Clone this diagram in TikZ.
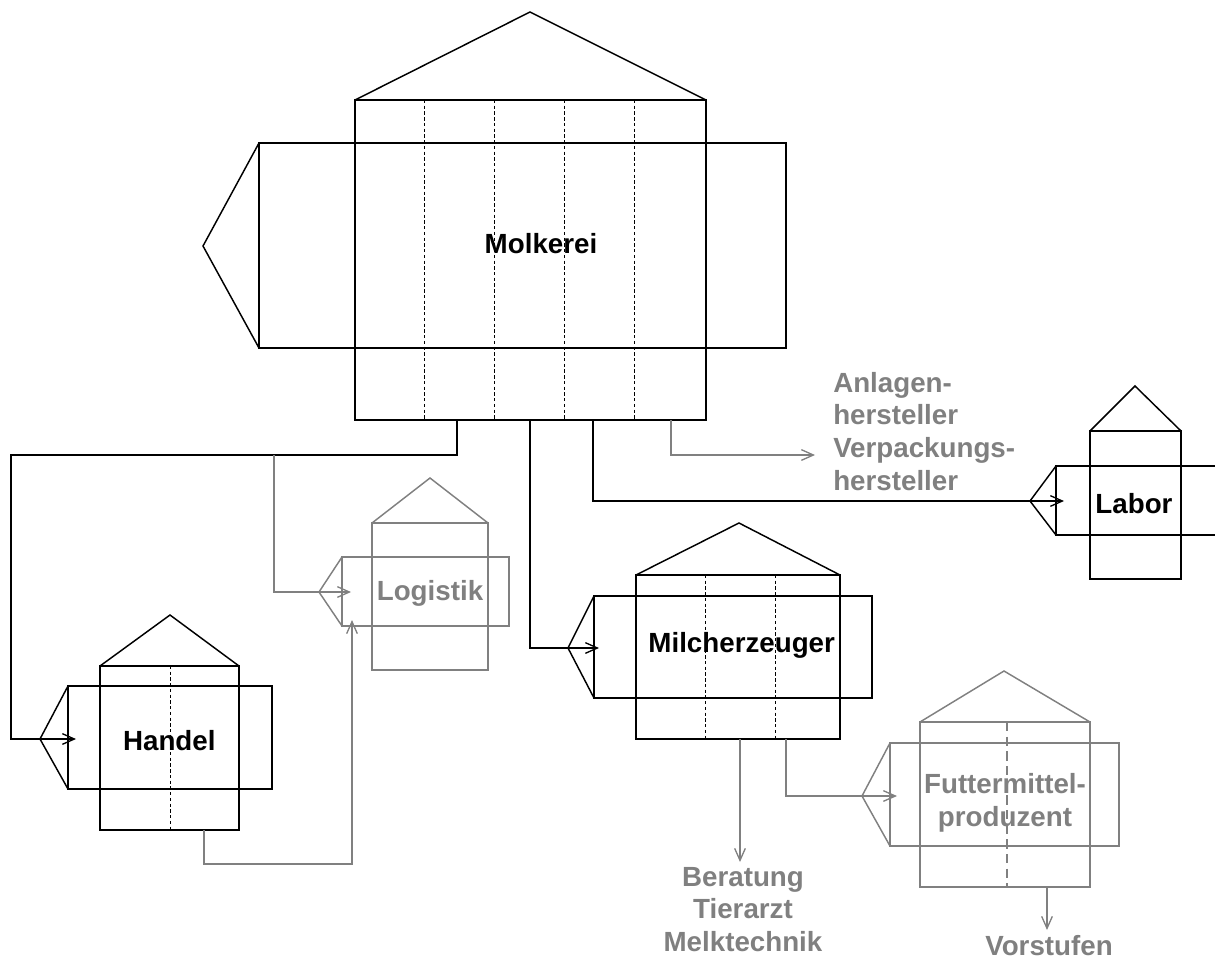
\documentclass[tikz,border=0pt]{standalone}
\usepackage{fontspec}
\setmainfont{Liberation Sans}
\usetikzlibrary{arrows.meta}
\definecolor{grayc}{RGB}{128,128,128}
\begin{document}
\begin{tikzpicture}[x=0.75pt,y=-0.75pt,
  blk/.style={draw=black,line width=1.1pt},
  gry/.style={draw=grayc,line width=1.1pt},
  fold/.style={draw=black,line width=0.6pt,dash pattern=on 2.5pt off 1.8pt},
  foldg/.style={draw=grayc,line width=1.8pt,dash pattern=on 7pt off 4pt},
  conn/.style={line width=1pt,-{Straight Barb[length=9pt,width=8pt,line width=1pt]}},
  lbl/.style={font=\fontsize{20.8}{24.4}\selectfont\bfseries,inner sep=0pt},
]
\useasboundingbox (0,0) rectangle (1215,961);
\begin{scope}
\clip (0,0) rectangle (1215,961);
% ---------- Molkerei ----------
\draw[blk] (355,100) -- (530,12) -- (706,100);
\draw[blk] (355,100) rectangle (706,420);
\draw[blk] (259,143) rectangle (786,348);
\draw[blk] (259,143) -- (203,246) -- (259,348);
\foreach \x in {424.5,494.8,564,634} \draw[fold] (\x,100) -- (\x,420);
\node[lbl,anchor=base] (molkerei) at (541,253) {Molkerei};
\coordinate (mo1) at (457,420);
\coordinate (mo2) at (530,420);
\coordinate (mo3) at (593,420);
\coordinate (mo4) at (671,420);
% ---------- Handel ----------
\draw[blk] (100,666) -- (170,615) -- (239,666);
\draw[blk] (100,666) rectangle (239,830);
\draw[blk] (68,686) rectangle (272,789);
\draw[blk] (68,686) -- (40,739) -- (68,789);
\draw[fold] (170.7,666) -- (170.7,830);
\node[lbl,anchor=base] (handel) at (169.3,750) {Handel};
\coordinate (handelIn) at (76,739);
\coordinate (ho1) at (204,830);
% ---------- Logistik ----------
\draw[gry] (372,523) -- (430,478) -- (488,523);
\draw[gry] (372,523) rectangle (488,670);
\draw[gry] (342,557) rectangle (509,626);
\draw[gry] (342,557) -- (319,592) -- (342,626);
\node[lbl,anchor=base,text=grayc] (logistik) at (430,600) {Logistik};
\coordinate (logIn) at (351,592);
\coordinate (logBot) at (352,620);
% ---------- Milcherzeuger ----------
\draw[blk] (636,575) -- (739,523) -- (840,575);
\draw[blk] (636,575) rectangle (840,739);
\draw[blk] (594,596) rectangle (872,698);
\draw[blk] (594,596) -- (568,648) -- (594,698);
\foreach \x in {705.3,775.3} \draw[fold] (\x,575) -- (\x,739);
\node[lbl,anchor=base] (milch) at (741.7,652) {Milcherzeuger};
\coordinate (milIn) at (599,648);
\coordinate (mi1) at (740,739);
\coordinate (mi2) at (786,739);
% ---------- Labor ----------
\draw[blk] (1090,431) -- (1135,386) -- (1181,431);
\draw[blk] (1090,431) rectangle (1181,579);
\draw[blk] (1056,466) rectangle (1240,535);
\draw[blk] (1056,466) -- (1030,501) -- (1056,535);
\node[lbl,anchor=base] (labor) at (1134,513) {Labor};
\coordinate (labIn) at (1064,501);
% ---------- Futtermittelproduzent ----------
\draw[gry] (920,722) -- (1004,671) -- (1090,722);
\draw[gry] (920,722) rectangle (1090,887);
\draw[gry] (890,743) rectangle (1119,846);
\draw[gry] (890,743) -- (862,796) -- (890,846);
\node[lbl,anchor=base,text=grayc,align=center] (futter) at (1005,826.5) {Futtermittel-\\produzent};
\draw[foldg] (1006.7,722) -- (1006.7,887);
\coordinate (futIn) at (897,796);
\coordinate (fo1) at (1047,887);
% ---------- gray labels ----------
\node[lbl,anchor=base west,text=grayc,align=left] (anlagen) at (833,490) {Anlagen-\\hersteller\\Verpackungs-\\hersteller};
\node[lbl,anchor=base,text=grayc,align=center] (beratung) at (743,951.5) {Beratung\\Tierarzt\\Melktechnik};
\node[lbl,anchor=base,text=grayc] (vorstufen) at (1049,955) {Vorstufen};
\coordinate (anlIn) at (815,455);
\coordinate (berIn) at (740,862);
\coordinate (vorIn) at (1047,930);
% ---------- connectors ----------
\coordinate (c1) at (11,455);
\coordinate (j1) at (274,455);
\coordinate (c2) at (352,864);
\coordinate (c3) at (786,796);
\draw[conn] (mo1) |- (c1) |- (handelIn);
\draw[conn,grayc] (j1) |- (logIn);
\draw[conn,grayc] (ho1) |- (c2) -- (logBot);
\draw[conn] (mo2) |- (milIn);
\draw[conn] (mo3) |- (labIn);
\draw[conn,grayc] (mo4) |- (anlIn);
\draw[conn,grayc] (mi1) -- (berIn);
\draw[conn,grayc] (mi2) -- (c3) -- (futIn);
\draw[conn,grayc] (fo1) -- (vorIn);
\end{scope}
\end{tikzpicture}
\end{document}
